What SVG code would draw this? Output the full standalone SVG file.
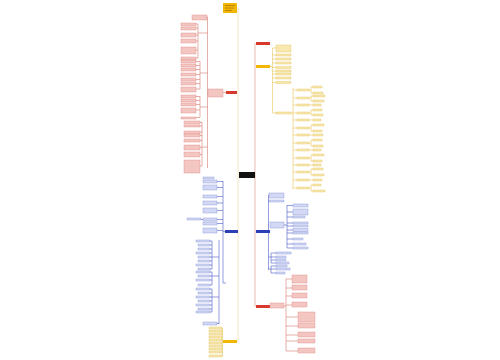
<svg xmlns="http://www.w3.org/2000/svg" width="500" height="360" viewBox="0 0 500 360">
<style>
.lr{stroke:#d47a72;stroke-width:.6;fill:none}
.lb{stroke:#4c5cc8;stroke-width:.6;fill:none}
.ly{stroke:#e8c65a;stroke-width:.6;fill:none}
.lc{stroke:#f3e0ad;stroke-width:.8;fill:none}
.lm{stroke:#e2a9a0;stroke-width:.8;fill:none}
.r{fill:#f3c6c1;stroke:#df8c85;stroke-width:.4}
.b{fill:#d3d9f4;stroke:#8490d8;stroke-width:.4}
.y{fill:#f8e8b0;stroke:#e3c35e;stroke-width:.4}
.R{fill:#d9382c}
.B{fill:#2c40b6}
.Y{fill:#f2b705}
</style>
<rect width="500" height="360" fill="#fff"/>
<g id="connectors">
<path class="lc" d="M238 8V342"/>
<path class="lm" d="M255 43V307M254 175H255"/>
<path class="lr" d="M226 92.5H223M207.5 17V168M207.5 17H207M207.5 33H198M198 24V58M196 24H198M196 28H198M196 35H198M196 41H198M196 50H198M196 58H198M207.5 73H200M200 61V89M196 61.5H200M196 65.5H200M196 69.5H200M196 74.5H200M196 79.5H200M196 83.5H200M196 89H200M207.5 107H200M200 96V117M196 96.5H200M196 100.5H200M196 104.5H200M196 110H200M196 117.5H200M207.5 147H202M202 122V166M200 122.5H202M200 126H202M200 132H202M200 135.5H202M200 140.5H202M200 147.5H202M200 154.5H202M200 166H202M208 93H207.5"/>
<path class="lb" d="M225 231.5H223M223 181V283M217 181.5H223M217 187.5H223M217 196.5H223M217 203H223M217 210.5H223M217 219.5H223M201 219.5H203M217 223.5H223M217 230.5H223M223 283H226M219 240V324M219 257H212M212 241V269M210 241H212M210 245H212M210 249H212M210 253H212M210 257H212M210 261H212M210 265H212M210 269H212M219 276H212M212 272V285M210 272H212M210 276H212M210 280H212M210 285H212M219 297H212M212 289V312M210 289H212M210 293H212M210 297H212M210 301H212M210 305H212M210 309H212M210 312H212M219 323.5H217"/>
<path class="ly" d="M223 341.5H222.5M222.5 328V356M222 328H222.5M222 331H222.5M222 334H222.5M222 337H222.5M222 340H222.5M222 343H222.5M222 346H222.5M222 349H222.5M222 352H222.5M222 356H222.5"/>
<path class="ly" d="M270 66.5H272.5M272.5 48V113M272.5 48H276M272.5 55H276M272.5 59H276M272.5 63H276M272.5 67.5H276M272.5 71H276M272.5 74H276M272.5 78H276M272.5 82.5H276M272.5 113H276M291 113H293M293 88V189M293 90H297M293 98H297M293 105H297M293 113H297M293 120H297M293 128H297M293 135H297M293 143H297M293 150H297M293 158H297M293 165H297M293 172H297M293 180H297M293 188H297M309 90H311M311 87V93M311 87H313M311 93H313M309 98H311M311 96V101M311 96H313M311 101H313M309 105H313M309 113H311M311 110V115M311 110H313M311 115H313M309 120H313M309 128H311M311 125V131M311 125H313M311 131H313M309 135H313M309 143H311M311 140V146M311 140H313M311 146H313M309 150H313M309 158H311M311 155V161M311 155H313M311 161H313M309 165H313M309 172H311M311 169V175M311 169H313M311 175H313M309 180H313M309 188H311M311 185V191M311 185H313M311 191H313"/>
<path class="lb" d="M268.5 195V270M268.5 195H269M268.5 201H269M268.5 225H269M284 225H287M287 205V248M287 205.5H293M287 212H293M287 217H293M287 223H293M287 226H293M287 230H293M287 233H293M287 239H293M287 244H293M287 248H293M268.5 257H271M271 253V263M271 253H276M271 257H276M271 260H276M271 263H276M268.5 269H271M271 266V273M271 266H276M271 269H276M271 273H276"/>
<path class="lr" d="M284 306H286M286 279V351M286 279H292M286 288H292M286 296H292M286 305H292M286 317H298M286 326H298M286 335H298M286 341H298M286 351H298"/>
</g>
<g id="center"><rect x="239" y="172" width="16" height="6" fill="#111"/></g>
<g id="top-title"><rect x="223" y="3" width="14" height="10" class="Y"/><path d="M225 5.5h10M225 8h9M225 10.5h7" stroke="#b07a00" stroke-width=".8"/></g>
<g id="bottom-gold"><rect x="223" y="340" width="14" height="3" class="Y"/>
<rect class="y" x="209" y="327" width="13" height="2"/><rect class="y" x="209" y="330" width="13" height="2"/><rect class="y" x="209" y="333" width="13" height="2"/><rect class="y" x="209" y="336" width="13" height="2"/><rect class="y" x="209" y="339" width="13" height="2"/><rect class="y" x="209" y="342" width="13" height="2"/><rect class="y" x="209" y="345" width="13" height="2"/><rect class="y" x="209" y="348" width="13" height="2"/><rect class="y" x="209" y="351" width="13" height="2"/><rect class="y" x="209" y="355" width="13" height="2"/></g>
<g id="left-red">
<rect class="R" x="226" y="91" width="11" height="3"/>
<rect class="r" x="208" y="89" width="15" height="8"/>
<rect class="r" x="192" y="15" width="15" height="5"/>
<rect class="r" x="181" y="23" width="15" height="3"/><rect class="r" x="181" y="27" width="15" height="3"/><rect class="r" x="181" y="33" width="15" height="4"/><rect class="r" x="181" y="39" width="15" height="4"/><rect class="r" x="181" y="47" width="15" height="7"/><rect class="r" x="181" y="57" width="15" height="3"/>
<rect class="r" x="181" y="60" width="15" height="3"/><rect class="r" x="181" y="64" width="15" height="3"/><rect class="r" x="181" y="68" width="15" height="3"/><rect class="r" x="181" y="73" width="15" height="3"/><rect class="r" x="181" y="78" width="15" height="3"/><rect class="r" x="181" y="82" width="15" height="3"/><rect class="r" x="181" y="87" width="15" height="5"/>
<rect class="r" x="181" y="95" width="15" height="3"/><rect class="r" x="181" y="99" width="15" height="3"/><rect class="r" x="181" y="103" width="15" height="3"/><rect class="r" x="181" y="108" width="15" height="5"/><rect class="r" x="181" y="117" width="15" height="2"/>
<rect class="r" x="184" y="121" width="16" height="3"/><rect class="r" x="184" y="125" width="16" height="2"/><rect class="r" x="184" y="131" width="16" height="3"/><rect class="r" x="184" y="134" width="16" height="3"/><rect class="r" x="184" y="139" width="16" height="3"/><rect class="r" x="184" y="145" width="16" height="5"/><rect class="r" x="184" y="152" width="16" height="5"/><rect class="r" x="184" y="160" width="16" height="13"/>
</g>
<g id="left-blue">
<rect class="B" x="225" y="230" width="13" height="3"/>
<rect class="b" x="203" y="177" width="11" height="2"/>
<rect class="b" x="203" y="180" width="14" height="3"/><rect class="b" x="203" y="185" width="14" height="5"/><rect class="b" x="203" y="195" width="14" height="3"/><rect class="b" x="203" y="201" width="14" height="4"/><rect class="b" x="203" y="208" width="14" height="5"/><rect class="b" x="203" y="218" width="14" height="3"/><rect class="b" x="187" y="218" width="14" height="2"/><rect class="b" x="203" y="222" width="14" height="3"/><rect class="b" x="203" y="228" width="14" height="5"/>
<rect class="b" x="196" y="240" width="14" height="2"/><rect class="b" x="198" y="244" width="12" height="2"/><rect class="b" x="198" y="248" width="12" height="2"/><rect class="b" x="196" y="252" width="14" height="2"/><rect class="b" x="198" y="256" width="12" height="2"/><rect class="b" x="198" y="260" width="12" height="2"/><rect class="b" x="196" y="264" width="14" height="2"/><rect class="b" x="198" y="268" width="12" height="2"/>
<rect class="b" x="196" y="271" width="14" height="2"/><rect class="b" x="198" y="275" width="12" height="2"/><rect class="b" x="196" y="279" width="14" height="2"/><rect class="b" x="198" y="284" width="12" height="2"/>
<rect class="b" x="196" y="288" width="14" height="2"/><rect class="b" x="198" y="292" width="12" height="2"/><rect class="b" x="196" y="296" width="14" height="2"/><rect class="b" x="198" y="300" width="12" height="2"/><rect class="b" x="196" y="304" width="14" height="2"/><rect class="b" x="198" y="308" width="12" height="2"/><rect class="b" x="196" y="311" width="14" height="2"/>
<rect class="b" x="203" y="322" width="14" height="3"/>
</g>
<g id="right-red-top"><rect class="R" x="256" y="42" width="14" height="3"/></g>
<g id="right-yellow">
<rect class="Y" x="256" y="65" width="14" height="3"/>
<rect class="y" x="276" y="45" width="15" height="7"/><rect class="y" x="276" y="54" width="15" height="2"/><rect class="y" x="276" y="58" width="15" height="2"/><rect class="y" x="276" y="62" width="15" height="2"/><rect class="y" x="276" y="66.5" width="15" height="2"/><rect class="y" x="276" y="70" width="15" height="2"/><rect class="y" x="276" y="73" width="15" height="2"/><rect class="y" x="276" y="77" width="15" height="2"/><rect class="y" x="276" y="81.5" width="15" height="2"/><rect class="y" x="276" y="112" width="15" height="2"/>
<rect class="y" x="297" y="89" width="12" height="2"/><rect class="y" x="297" y="97" width="12" height="2"/><rect class="y" x="297" y="104" width="12" height="2"/><rect class="y" x="297" y="112" width="12" height="2"/><rect class="y" x="297" y="119" width="12" height="2"/><rect class="y" x="297" y="127" width="12" height="2"/><rect class="y" x="297" y="134" width="12" height="2"/><rect class="y" x="297" y="142" width="12" height="2"/><rect class="y" x="297" y="149" width="12" height="2"/><rect class="y" x="297" y="157" width="12" height="2"/><rect class="y" x="297" y="164" width="12" height="2"/><rect class="y" x="297" y="171" width="12" height="2"/><rect class="y" x="297" y="179" width="12" height="2"/><rect class="y" x="297" y="187" width="12" height="2"/>
<rect class="y" x="313" y="86" width="9" height="2"/><rect class="y" x="313" y="92" width="10" height="2"/><rect class="y" x="313" y="95" width="12" height="2"/><rect class="y" x="313" y="100" width="11" height="2"/><rect class="y" x="313" y="104" width="8" height="2"/><rect class="y" x="313" y="109" width="9" height="2"/><rect class="y" x="313" y="114" width="10" height="2"/><rect class="y" x="313" y="119" width="8" height="2"/><rect class="y" x="313" y="124" width="11" height="2"/><rect class="y" x="313" y="130" width="9" height="2"/><rect class="y" x="313" y="134" width="10" height="2"/><rect class="y" x="313" y="139" width="9" height="2"/><rect class="y" x="313" y="145" width="10" height="2"/><rect class="y" x="313" y="149" width="8" height="2"/><rect class="y" x="313" y="154" width="11" height="2"/><rect class="y" x="313" y="160" width="9" height="2"/><rect class="y" x="313" y="164" width="8" height="2"/><rect class="y" x="313" y="168" width="10" height="2"/><rect class="y" x="313" y="174" width="11" height="2"/><rect class="y" x="313" y="179" width="9" height="2"/><rect class="y" x="313" y="184" width="8" height="2"/><rect class="y" x="313" y="190" width="12" height="2"/>
</g>
<g id="right-blue">
<rect class="B" x="256" y="230" width="14" height="3"/>
<rect class="b" x="269" y="193" width="15" height="5"/><rect class="b" x="269" y="200" width="15" height="2"/><rect class="b" x="270" y="222" width="14" height="6"/>
<rect class="b" x="293" y="204" width="15" height="3"/><rect class="b" x="293" y="209" width="15" height="6"/><rect class="b" x="293" y="216" width="12" height="2"/><rect class="b" x="293" y="222" width="15" height="2"/><rect class="b" x="293" y="225" width="15" height="2"/><rect class="b" x="293" y="228.5" width="15" height="3"/><rect class="b" x="293" y="232" width="15" height="2"/><rect class="b" x="293" y="238" width="10" height="2"/><rect class="b" x="293" y="243" width="13" height="2"/><rect class="b" x="293" y="247" width="15" height="2"/>
<rect class="b" x="276" y="252" width="15" height="2"/><rect class="b" x="276" y="256" width="10" height="2"/><rect class="b" x="276" y="259" width="10" height="2"/><rect class="b" x="276" y="262" width="13" height="2"/><rect class="b" x="276" y="265" width="11" height="2"/><rect class="b" x="276" y="268" width="14" height="2"/><rect class="b" x="276" y="272" width="9" height="2"/>
</g>
<g id="right-red">
<rect class="R" x="256" y="305" width="14" height="3"/>
<rect class="r" x="270" y="303" width="14" height="5"/>
<rect class="r" x="292" y="275" width="15" height="8"/><rect class="r" x="292" y="285" width="15" height="5"/><rect class="r" x="292" y="293" width="15" height="5"/><rect class="r" x="292" y="302" width="15" height="5"/>
<rect class="r" x="298" y="312" width="17" height="10"/><rect class="r" x="298" y="323" width="17" height="5"/><rect class="r" x="298" y="332" width="17" height="5"/><rect class="r" x="298" y="339" width="17" height="4"/><rect class="r" x="298" y="348" width="17" height="5"/>
</g>
</svg>
